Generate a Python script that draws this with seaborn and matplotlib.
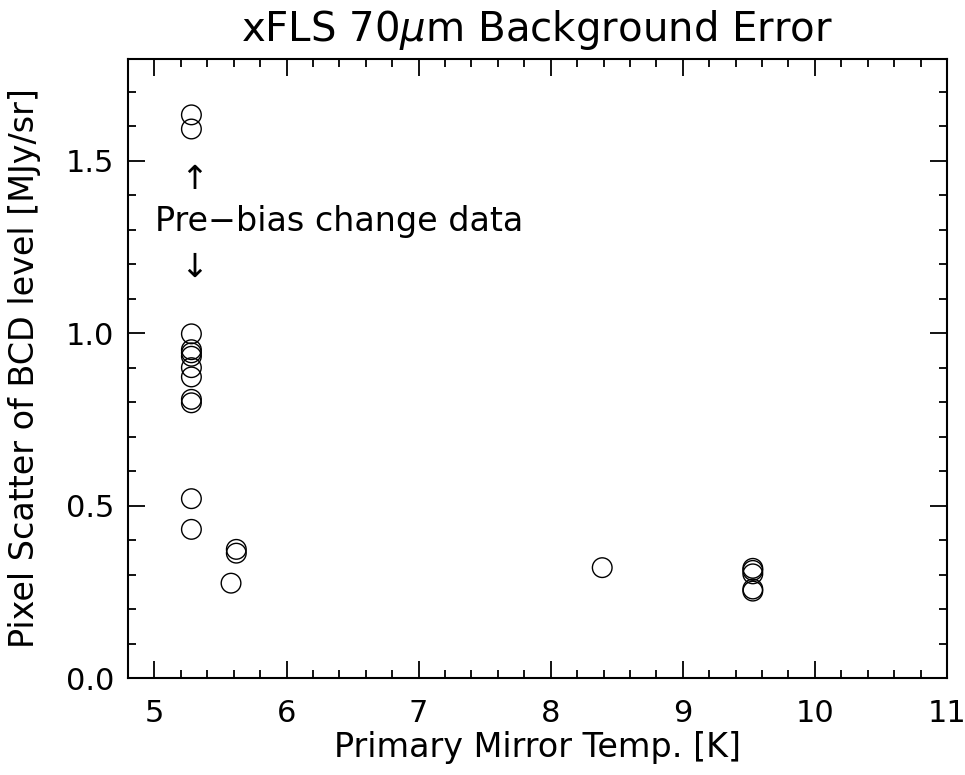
import numpy as np
import pandas as pd
import matplotlib
matplotlib.use("Agg")
import matplotlib.pyplot as plt
import seaborn as sns
from matplotlib.ticker import MultipleLocator, FormatStrFormatter

# Data
temp = [5.28, 5.28, 5.28, 5.28, 5.28, 5.28, 5.28, 5.28, 5.28, 5.28, 5.28, 5.28,
        5.62, 5.62, 5.58, 8.39, 9.53, 9.53, 9.53, 9.53, 9.53]
scatter = [1.633, 1.592, 0.998, 0.952, 0.943, 0.933, 0.900, 0.873, 0.808, 0.798, 0.520, 0.431,
           0.373, 0.362, 0.275, 0.320, 0.318, 0.312, 0.302, 0.258, 0.252]

title = "xFLS 70$\\mu$m Background Error"
xlabel = "Primary Mirror Temp. [K]"
ylabel = "Pixel Scatter of BCD level [MJy/sr]"
note = "Pre\u2212bias change data"

df = pd.DataFrame({"temp": temp, "scatter": scatter})

sns.set_theme(style="ticks")
plt.rcParams['font.family'] = ['DejaVu Sans']
plt.rcParams['text.color'] = 'black'
plt.rcParams['axes.labelcolor'] = 'black'

fig = plt.figure(figsize=(9.65, 7.75), dpi=100)
ax = fig.add_axes([128/965, 1 - 678/775, (947-128)/965, (678-59)/775])

sns.scatterplot(data=df, x="temp", y="scatter", ax=ax, marker="o",
                s=200, facecolors="none", edgecolor="black", linewidth=1.0)

ax.set_xlim(4.8, 11.0)
ax.set_ylim(0.0, 1.795)
ax.xaxis.set_major_locator(MultipleLocator(1))
ax.xaxis.set_minor_locator(MultipleLocator(0.2))
ax.yaxis.set_major_locator(MultipleLocator(0.5))
ax.yaxis.set_minor_locator(MultipleLocator(0.1))
ax.yaxis.set_major_formatter(FormatStrFormatter("%.1f"))
ax.xaxis.set_major_formatter(FormatStrFormatter("%d"))

ax.tick_params(which="both", direction="in", top=True, right=True, colors="black",
               labelsize=22, width=1.3)
ax.tick_params(which="major", length=12)
ax.tick_params(which="minor", length=6)
ax.tick_params(axis="x", which="major", pad=15)
ax.tick_params(axis="y", which="major", pad=10)
for sp in ax.spines.values():
    sp.set_linewidth(1.5)
    sp.set_color("black")

ax.set_title(title, fontsize=29, pad=13, color="black")
ax.set_xlabel(xlabel, fontsize=24, labelpad=2)
ax.set_ylabel(ylabel, fontsize=24)
ax.yaxis.set_label_coords(-0.106, 0.5)

ax.text(5.30, 1.445, "\u2191", fontsize=24, ha="center", va="center")
ax.text(6.40, 1.323, note, fontsize=24, ha="center", va="center")
ax.text(5.30, 1.19, "\u2193", fontsize=24, ha="center", va="center")

fig.savefig("out.png", dpi=100, facecolor="white")
